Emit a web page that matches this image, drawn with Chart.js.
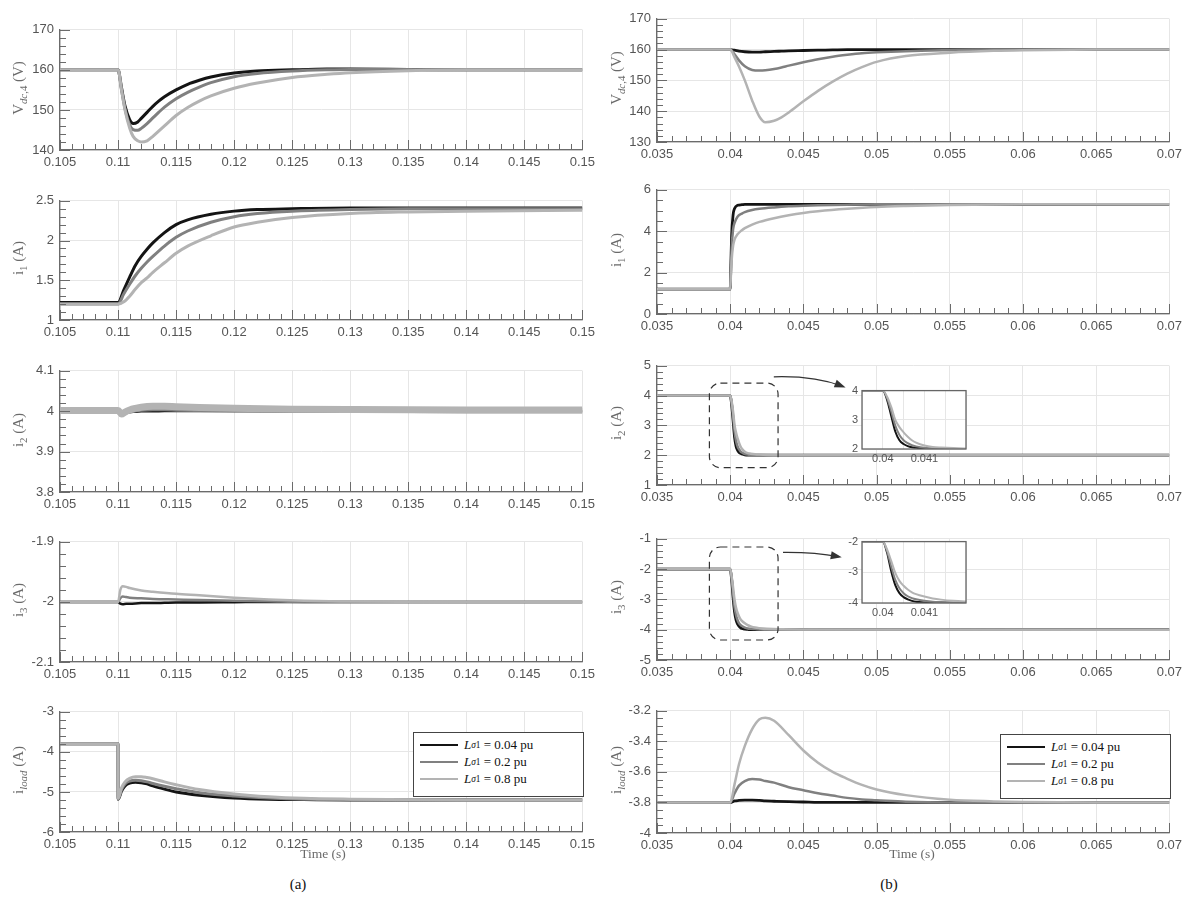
<!DOCTYPE html>
<html>
<head>
<meta charset="utf-8">
<script src="https://cdn.jsdelivr.net/npm/chart.js@4.4.1/dist/chart.umd.min.js"></script>
<style>
  body { margin: 0; background: #fff; }
  #fig { position: relative; width: 1187px; height: 914px; overflow: hidden; background: #fff; }
  canvas { position: absolute; }
  .ylab { position: absolute; font-family: 'Liberation Serif', serif; font-size: 15px; color: #6a6a6a; white-space: nowrap; transform: translate(-50%, -50%) rotate(-90deg); }
  .xlab { position: absolute; font-family: 'Liberation Serif', serif; font-size: 13.5px; color: #6a6a6a; white-space: nowrap; transform: translateX(-50%); }
  .cap { position: absolute; font-family: 'Liberation Serif', serif; font-size: 15px; color: #111; transform: translateX(-50%); }
  .legend { position: absolute; background: #fff; border: 1px solid #444; font-family: 'Liberation Serif', serif; font-size: 13px; color: #111; padding: 3px 6px; box-sizing: border-box; }
  .legend div { display: flex; align-items: center; height: 17px; white-space: nowrap; }
  .legend .sw { display: inline-block; width: 38px; height: 0; border-top: 2.5px solid; margin-right: 6px; }
  sub { font-size: 72%; }
</style>
</head>
<body>
<div id="fig"></div>
<script>
// ---- data: (a) column, step at t = 0.11 s
const xTicksA = [0.105, 0.11, 0.115, 0.12, 0.125, 0.13, 0.135, 0.14, 0.145, 0.15];

const tVdcA = [0.105, 0.11, 0.1103, 0.1106, 0.111, 0.1113, 0.1117, 0.112, 0.1125, 0.113, 0.1135, 0.114, 0.115, 0.116, 0.117, 0.118, 0.12, 0.122, 0.125, 0.128, 0.13, 0.135, 0.14, 0.145, 0.15];
const vdcA_004 = [160, 160, 155.5, 151, 147.6, 146.6, 147.0, 147.9, 149.4, 150.9, 152.2, 153.3, 155.0, 156.4, 157.4, 158.2, 159.2, 159.7, 160.0, 160.2, 160.2, 160.1, 160.0, 160.0, 160.0];
const vdcA_02 = [160, 160, 155, 150.3, 146.3, 145.1, 144.9, 145.4, 146.6, 148.0, 149.4, 150.7, 152.8, 154.4, 155.7, 156.8, 158.3, 159.1, 159.7, 160.0, 160.1, 160.1, 160.0, 160.0, 160.0];
const vdcA_08 = [160, 160, 155, 150, 145.5, 143.4, 142.3, 142.0, 142.3, 143.4, 144.7, 146.0, 148.6, 150.6, 152.2, 153.5, 155.4, 156.7, 158.1, 158.9, 159.3, 159.8, 160.0, 160.0, 160.0];
const yTicksVdcA = [140, 150, 160, 170];

const tI1A = [0.105, 0.11, 0.1105, 0.111, 0.1115, 0.112, 0.1125, 0.113, 0.114, 0.115, 0.116, 0.118, 0.12, 0.122, 0.125, 0.13, 0.135, 0.14, 0.15];
const i1A_004 = [1.22, 1.22, 1.38, 1.54, 1.69, 1.8, 1.89, 1.97, 2.1, 2.2, 2.26, 2.33, 2.37, 2.39, 2.4, 2.41, 2.41, 2.41, 2.41];
const i1A_02 = [1.2, 1.2, 1.33, 1.45, 1.56, 1.65, 1.73, 1.8, 1.93, 2.04, 2.12, 2.23, 2.3, 2.34, 2.37, 2.39, 2.4, 2.4, 2.4];
const i1A_08 = [1.2, 1.2, 1.23, 1.3, 1.39, 1.47, 1.53, 1.6, 1.72, 1.84, 1.93, 2.06, 2.17, 2.23, 2.29, 2.34, 2.36, 2.37, 2.38];
const yTicksI1A = [1, 1.5, 2, 2.5];

const tI2A = [0.105, 0.11, 0.1103, 0.1106, 0.111, 0.1115, 0.112, 0.113, 0.114, 0.115, 0.117, 0.12, 0.125, 0.13, 0.14, 0.15];
const i2A_004 = [4.0, 4.0, 3.993, 3.996, 3.998, 3.998, 3.999, 3.999, 4.0, 4.0, 4.0, 4.0, 4.0, 4.0, 4.0, 4.0];
const i2A_02 = [4.001, 4.001, 3.993, 3.997, 4.0, 4.003, 4.005, 4.006, 4.006, 4.005, 4.004, 4.003, 4.002, 4.002, 4.001, 4.001];
const i2A_08 = [4.002, 4.002, 3.993, 3.998, 4.003, 4.007, 4.01, 4.012, 4.012, 4.011, 4.009, 4.007, 4.005, 4.004, 4.003, 4.003];
const yTicksI2A = [3.8, 3.9, 4, 4.1];

const tI3A = [0.105, 0.11, 0.1102, 0.1104, 0.1107, 0.111, 0.112, 0.113, 0.115, 0.117, 0.12, 0.123, 0.126, 0.13, 0.14, 0.15];
const i3A_004 = [-2, -2, -2.003, -2.004, -2.003, -2.003, -2.002, -2.002, -2.001, -2.001, -2.0005, -2, -2, -2, -2, -2];
const i3A_02 = [-2, -2, -1.994, -1.991, -1.992, -1.993, -1.994, -1.995, -1.996, -1.997, -1.998, -1.999, -2, -2, -2, -2];
const i3A_08 = [-2, -2, -1.98, -1.974, -1.975, -1.977, -1.981, -1.983, -1.9865, -1.989, -1.993, -1.996, -1.998, -1.9995, -2, -2];
const yTicksI3A = [-2.1, -2, -1.9];

const tLoadA = [0.105, 0.11, 0.11001, 0.1103, 0.1106, 0.111, 0.1115, 0.112, 0.1125, 0.113, 0.114, 0.115, 0.117, 0.12, 0.123, 0.126, 0.13, 0.14, 0.15];
const loadA_004 = [-3.8, -3.8, -5.18, -4.98, -4.85, -4.78, -4.76, -4.77, -4.8, -4.85, -4.93, -5.0, -5.08, -5.15, -5.18, -5.19, -5.2, -5.2, -5.2];
const loadA_02 = [-3.8, -3.8, -5.18, -4.94, -4.8, -4.73, -4.71, -4.72, -4.75, -4.79, -4.86, -4.92, -5.02, -5.1, -5.15, -5.18, -5.19, -5.2, -5.2];
const loadA_08 = [-3.8, -3.8, -5.16, -4.9, -4.75, -4.66, -4.62, -4.62, -4.64, -4.67, -4.75, -4.82, -4.94, -5.05, -5.12, -5.16, -5.18, -5.2, -5.2];
const yTicksLoadA = [-6, -5, -4, -3];

// ---- data: (b) column, step at t = 0.04 s
const xTicksB = [0.035, 0.04, 0.045, 0.05, 0.055, 0.06, 0.065, 0.07];

const tVdcB = [0.035, 0.04, 0.0403, 0.0406, 0.041, 0.0415, 0.042, 0.0424, 0.043, 0.0435, 0.044, 0.045, 0.046, 0.047, 0.048, 0.049, 0.05, 0.052, 0.055, 0.058, 0.06, 0.065, 0.07];
const vdcB_004 = [160, 160, 159.8, 159.5, 159.3, 159.2, 159.2, 159.3, 159.4, 159.5, 159.6, 159.7, 159.8, 159.9, 160, 160, 160, 160, 160, 160, 160, 160, 160];
const vdcB_02 = [160, 160, 158.5, 156.5, 154.6, 153.4, 153.2, 153.3, 153.7, 154.2, 154.8, 155.9, 156.9, 157.7, 158.3, 158.8, 159.1, 159.5, 159.8, 160, 160, 160, 160];
const vdcB_08 = [160, 160, 157.5, 154.5, 150, 143.5, 138.2, 136.4, 136.9, 138.0, 139.6, 143.2, 146.6, 149.6, 152.2, 154.3, 156.0, 157.9, 159.0, 159.6, 159.8, 160, 160];
const yTicksVdcB = [130, 140, 150, 160, 170];

const tI1B = [0.035, 0.04, 0.04005, 0.0401, 0.0402, 0.0403, 0.0405, 0.0408, 0.041, 0.0415, 0.042, 0.043, 0.044, 0.045, 0.046, 0.048, 0.05, 0.052, 0.055, 0.06, 0.065, 0.07];
const i1B_004 = [1.2, 1.2, 2.5, 3.8, 4.8, 5.1, 5.25, 5.28, 5.3, 5.3, 5.3, 5.3, 5.3, 5.3, 5.3, 5.3, 5.3, 5.3, 5.3, 5.3, 5.3, 5.3];
const i1B_02 = [1.2, 1.2, 2.2, 3.2, 4.1, 4.4, 4.7, 4.85, 4.92, 5.02, 5.08, 5.15, 5.2, 5.23, 5.25, 5.28, 5.3, 5.3, 5.3, 5.3, 5.3, 5.3];
const i1B_08 = [1.2, 1.2, 1.9, 2.6, 3.3, 3.6, 3.85, 4.05, 4.15, 4.32, 4.45, 4.63, 4.77, 4.88, 4.96, 5.08, 5.17, 5.22, 5.27, 5.3, 5.3, 5.3];
const yTicksI1B = [0, 2, 4, 6];

const tI2B = [0.035, 0.04, 0.0401, 0.0402, 0.0403, 0.0404, 0.0405, 0.0406, 0.0407, 0.0408, 0.041, 0.0412, 0.0414, 0.0417, 0.042, 0.0425, 0.045, 0.07];
const i2B_004 = [4, 4, 3.7, 3.15, 2.6, 2.3, 2.17, 2.1, 2.06, 2.04, 2.01, 2.0, 2.0, 2.0, 2.0, 2.0, 2.0, 2.0];
const i2B_02 = [4, 4, 3.75, 3.3, 2.8, 2.48, 2.3, 2.2, 2.13, 2.09, 2.04, 2.02, 2.01, 2.0, 2.0, 2.0, 2.0, 2.0];
const i2B_08 = [4, 4, 3.8, 3.45, 3.0, 2.75, 2.57, 2.42, 2.3, 2.22, 2.12, 2.07, 2.05, 2.03, 2.02, 2.01, 2.0, 2.0];
const yTicksI2B = [1, 2, 3, 4, 5];

const tI3B = [0.035, 0.04, 0.0401, 0.0402, 0.0403, 0.0404, 0.0405, 0.0406, 0.0407, 0.0408, 0.041, 0.0412, 0.0414, 0.0417, 0.042, 0.0425, 0.045, 0.07];
const i3B_004 = [-2, -2, -2.35, -2.95, -3.42, -3.68, -3.81, -3.88, -3.93, -3.96, -3.98, -3.99, -4, -4, -4, -4, -4, -4];
const i3B_02 = [-2, -2, -2.3, -2.8, -3.25, -3.52, -3.68, -3.78, -3.84, -3.88, -3.93, -3.96, -3.97, -3.98, -3.99, -4, -4, -4];
const i3B_08 = [-2, -2, -2.25, -2.62, -3.02, -3.28, -3.44, -3.56, -3.65, -3.71, -3.79, -3.85, -3.89, -3.93, -3.95, -3.97, -3.99, -4];
const yTicksI3B = [-5, -4, -3, -2, -1];

const tLoadB = [0.035, 0.04, 0.0403, 0.0406, 0.041, 0.0415, 0.042, 0.0424, 0.043, 0.044, 0.045, 0.046, 0.047, 0.048, 0.049, 0.05, 0.052, 0.055, 0.058, 0.06, 0.065, 0.07];
const loadB_004 = [-3.8, -3.8, -3.79, -3.787, -3.785, -3.785, -3.787, -3.79, -3.792, -3.795, -3.797, -3.8, -3.8, -3.8, -3.8, -3.8, -3.8, -3.8, -3.8, -3.8, -3.8, -3.8];
const loadB_02 = [-3.8, -3.8, -3.74, -3.69, -3.66, -3.647, -3.65, -3.66, -3.67, -3.7, -3.72, -3.74, -3.755, -3.77, -3.78, -3.785, -3.795, -3.8, -3.8, -3.8, -3.8, -3.8];
const loadB_08 = [-3.8, -3.8, -3.68, -3.55, -3.43, -3.32, -3.255, -3.245, -3.265, -3.36, -3.46, -3.54, -3.6, -3.645, -3.685, -3.715, -3.752, -3.782, -3.793, -3.797, -3.8, -3.8];
const yTicksLoadB = [-4, -3.8, -3.6, -3.4, -3.2];

const insetXLabels = [0.04, 0.041];
const insetYI2 = [2, 3, 4];
const insetYI3 = [-4, -3, -2];
const legendValues = ['0.04', '0.2', '0.8'];

// drawn light first so that dataset 0 (0.8 pu) ends up on top
const colors = ['#b3b3b3', '#808080', '#141414'];

const fig = document.getElementById('fig');

function steps(min, max, step) {
  const n = Math.round((max - min) / step);
  const out = [];
  for (let i = 0; i <= n; i++) out.push(+(min + i * step).toFixed(8));
  return out;
}
const near = (list, v) => list.some(t => Math.abs(t - v) < 1e-9);

// inward major / minor tick marks (MATLAB style)
const inTicks = {
  id: 'inTicks',
  afterDatasetsDraw(chart, args, o) {
    if (!o.xMinor) return;
    const {ctx, chartArea: a, scales: {x, y}} = chart;
    ctx.save();
    ctx.strokeStyle = '#6b6b6b';
    ctx.lineWidth = 1;
    ctx.beginPath();
    for (const v of steps(x.min, x.max, o.xMinor)) {
      const px = Math.round(x.getPixelForValue(v)) + 0.5;
      ctx.moveTo(px, a.bottom);
      ctx.lineTo(px, a.bottom - (near(o.xMajor, v) ? 10 : 6));
    }
    for (const v of steps(y.min, y.max, o.yMinor)) {
      const py = Math.round(y.getPixelForValue(v)) + 0.5;
      ctx.moveTo(a.left, py);
      ctx.lineTo(a.left + (near(o.yMajor, v) ? 10 : 6), py);
    }
    ctx.stroke();
    ctx.restore();
  }
};

// dashed zoom box + curved arrow, given in data units
const notes = {
  id: 'notes',
  afterDatasetsDraw(chart, args, o) {
    if (!o.box) return;
    const {ctx, scales: {x, y}} = chart;
    const X = v => x.getPixelForValue(v), Y = v => y.getPixelForValue(v);
    const x0 = X(o.box[0]), x1 = X(o.box[1]), y0 = Y(o.box[2]), y1 = Y(o.box[3]);
    const r = 11;
    ctx.save();
    ctx.strokeStyle = '#333';
    ctx.lineWidth = 1.2;
    ctx.setLineDash([7, 5]);
    ctx.beginPath();
    ctx.moveTo(x0 + r, y0);
    ctx.arcTo(x1, y0, x1, y1, r);
    ctx.arcTo(x1, y1, x0, y1, r);
    ctx.arcTo(x0, y1, x0, y0, r);
    ctx.arcTo(x0, y0, x1, y0, r);
    ctx.closePath();
    ctx.stroke();
    ctx.setLineDash([]);
    const [p0, pc, p1] = o.arrow.map(p => [X(p[0]), Y(p[1])]);
    ctx.lineWidth = 1.3;
    ctx.beginPath();
    ctx.moveTo(p0[0], p0[1]);
    ctx.quadraticCurveTo(pc[0], pc[1], p1[0], p1[1]);
    ctx.stroke();
    const ang = Math.atan2(p1[1] - pc[1], p1[0] - pc[0]);
    ctx.fillStyle = '#333';
    ctx.beginPath();
    ctx.moveTo(p1[0] + 3 * Math.cos(ang), p1[1] + 3 * Math.sin(ang));
    ctx.lineTo(p1[0] - 8 * Math.cos(ang) + 4 * Math.sin(ang), p1[1] - 8 * Math.sin(ang) - 4 * Math.cos(ang));
    ctx.lineTo(p1[0] - 8 * Math.cos(ang) - 4 * Math.sin(ang), p1[1] - 8 * Math.sin(ang) + 4 * Math.cos(ang));
    ctx.closePath();
    ctx.fill();
    ctx.restore();
  }
};

// white face + full box for the insets
const insetFrame = {
  id: 'insetFrame',
  beforeDraw(chart, args, o) {
    if (!o.on) return;
    const {ctx, chartArea: a} = chart;
    ctx.save();
    ctx.fillStyle = '#fff';
    ctx.fillRect(a.left, a.top, a.right - a.left, a.bottom - a.top);
    ctx.restore();
  },
  afterDraw(chart, args, o) {
    if (!o.on) return;
    const {ctx, chartArea: a} = chart;
    ctx.save();
    ctx.strokeStyle = '#666';
    ctx.lineWidth = 1.3;
    ctx.strokeRect(a.left, a.top, a.right - a.left, a.bottom - a.top);
    ctx.restore();
  }
};

function plot(o) {
  const padTop = o.padTop || 10, axH = o.axH || 26, axW = o.axW || 60;
  const W = o.width, H = padTop + (o.bottom - o.top) + axH;
  const c = document.createElement('canvas');
  c.width = W; c.height = H;
  c.style.left = o.left + 'px';
  c.style.top = (o.top - padTop) + 'px';
  c.style.width = W + 'px';
  c.style.height = H + 'px';
  fig.appendChild(c);
  const fs = o.fontSize || 13;
  const tickFont = {family: "'Liberation Sans', Arial, sans-serif", size: fs};
  const xLab = o.xLabels || o.xMajor, yLab = o.yLabels || o.yMajor;
  return new Chart(c, {
    type: 'line',
    data: {
      datasets: o.series.map((s, k) => ({
        data: o.t.map((tv, i) => ({x: tv, y: s[i]})),
        borderColor: colors[k],
        borderWidth: o.widths[k],
        pointRadius: 0,
        cubicInterpolationMode: 'monotone',
        fill: false
      }))
    },
    options: {
      responsive: false,
      animation: false,
      devicePixelRatio: 1,
      layout: {padding: {top: padTop, right: o.padRight, left: 0, bottom: 0}},
      plugins: {
        legend: {display: false},
        tooltip: {enabled: false},
        inTicks: o.inset ? {} : {xMajor: o.xMajor, xMinor: o.xMinor, yMajor: o.yMajor, yMinor: o.yMinor},
        notes: o.notes || {},
        insetFrame: {on: !!o.inset}
      },
      scales: {
        x: {
          type: 'linear', min: o.xMin, max: o.xMax,
          afterBuildTicks: s => { s.ticks = (o.xGrid || o.xMajor).map(v => ({value: v})); },
          afterFit: s => { s.height = axH; },
          ticks: {color: '#555', font: tickFont, padding: o.inset ? 3 : 5, maxRotation: 0, autoSkip: false,
                  callback: v => near(xLab, v) ? String(xLab.find(t => Math.abs(t - v) < 1e-9)) : ''},
          grid: {color: '#e6e6e6', lineWidth: 1, drawTicks: false},
          border: {display: !o.inset, color: '#6b6b6b', width: 1.3}
        },
        y: {
          type: 'linear', min: o.yMin, max: o.yMax,
          afterBuildTicks: s => { s.ticks = (o.yGrid || o.yMajor).map(v => ({value: v})); },
          afterFit: s => { s.width = axW; },
          ticks: {color: '#555', font: tickFont, padding: o.inset ? 4 : 6, autoSkip: false,
                  callback: v => near(yLab, v) ? String(yLab.find(t => Math.abs(t - v) < 1e-9)) : ''},
          grid: {color: '#e6e6e6', lineWidth: 1, drawTicks: false},
          border: {display: !o.inset, color: '#6b6b6b', width: 1.3}
        }
      }
    },
    plugins: [inTicks, notes, insetFrame]
  });
}

const colA = {left: 0, width: 600, padRight: 13, xMin: 0.105, xMax: 0.15, xMajor: xTicksA, xMinor: 0.001};
const colB = {left: 597, width: 590, padRight: 15, xMin: 0.035, xMax: 0.07, xMajor: xTicksB, xMinor: 0.001};
const wA = [3, 3, 3], wB = [2.5, 2.5, 2.8];

plot({...colA, top: 26, bottom: 150, t: tVdcA, series: [vdcA_08, vdcA_02, vdcA_004], widths: wA,
      yMin: 140, yMax: 170, yMajor: yTicksVdcA, yMinor: 2});
plot({...colA, top: 197, bottom: 320, t: tI1A, series: [i1A_08, i1A_02, i1A_004], widths: wA,
      yMin: 1, yMax: 2.5, yMajor: yTicksI1A, yMinor: 0.1});
plot({...colA, top: 367, bottom: 492, t: tI2A, series: [i2A_08, i2A_02, i2A_004], widths: [7, 5, 2],
      yMin: 3.8, yMax: 4.1, yMajor: yTicksI2A, yMinor: 0.02});
plot({...colA, top: 538, bottom: 662, t: tI3A, series: [i3A_08, i3A_02, i3A_004], widths: [2.5, 2.5, 2.5],
      yMin: -2.1, yMax: -1.9, yMajor: yTicksI3A, yMinor: 0.02});
plot({...colA, top: 708, bottom: 832, t: tLoadA, series: [loadA_08, loadA_02, loadA_004], widths: wA,
      yMin: -6, yMax: -3, yMajor: yTicksLoadA, yMinor: 0.2});

plot({...colB, top: 15, bottom: 142, t: tVdcB, series: [vdcB_08, vdcB_02, vdcB_004], widths: wB,
      yMin: 130, yMax: 170, yMajor: yTicksVdcB, yMinor: 2});
plot({...colB, top: 186, bottom: 314, t: tI1B, series: [i1B_08, i1B_02, i1B_004], widths: wB,
      yMin: 0, yMax: 6, yMajor: yTicksI1B, yMinor: 0.5});
plot({...colB, top: 362, bottom: 485, t: tI2B, series: [i2B_08, i2B_02, i2B_004], widths: wB,
      yMin: 1, yMax: 5, yMajor: yTicksI2B, yMinor: 0.2,
      notes: {box: [0.03858, 0.04327, 4.42, 1.58], arrow: [[0.04298, 4.63], [0.04577, 4.67], [0.04769, 4.31]]}});
plot({...colB, top: 535, bottom: 660, t: tI3B, series: [i3B_08, i3B_02, i3B_004], widths: wB,
      yMin: -5, yMax: -1, yMajor: yTicksI3B, yMinor: 0.2,
      notes: {box: [0.03858, 0.04327, -1.27, -4.34], arrow: [[0.04361, -1.45], [0.04577, -1.44], [0.04742, -1.59]]}});
plot({...colB, top: 707, bottom: 833, t: tLoadB, series: [loadB_08, loadB_02, loadB_004], widths: wB,
      yMin: -4, yMax: -3.2, yMajor: yTicksLoadB, yMinor: 0.05});

// zoomed insets on the i2 / i3 panels of (b)
const insetBase = {inset: true, left: 822, width: 154, padRight: 10, padTop: 8, axH: 20, axW: 40, fontSize: 11,
                   xMin: 0.0395, xMax: 0.042, xGrid: steps(0.0395, 0.042, 0.0005), xMajor: insetXLabels,
                   widths: [2, 2, 2]};
plot({...insetBase, top: 388, bottom: 449, t: tI2B, series: [i2B_08, i2B_02, i2B_004],
      yMin: 2, yMax: 4, yMajor: insetYI2});
plot({...insetBase, top: 539, bottom: 603, t: tI3B, series: [i3B_08, i3B_02, i3B_004],
      yMin: -4, yMax: -2, yMajor: insetYI3});

// text: axis labels, legends, captions
function html(cls, x, y, inner, extra) {
  const d = document.createElement('div');
  d.className = cls;
  d.style.left = x + 'px';
  d.style.top = y + 'px';
  if (extra) Object.assign(d.style, extra);
  d.innerHTML = inner;
  fig.appendChild(d);
  return d;
}
const yLabels = [
  'V<sub><i>dc</i>,4</sub> (V)', 'i<sub>1</sub> (A)', 'i<sub>2</sub> (A)', 'i<sub>3</sub> (A)', 'i<sub><i>load</i></sub> (A)'
];
const midA = [88, 258, 430, 600, 770], midB = [78, 250, 423, 597, 770];
yLabels.forEach((s, k) => {
  html('ylab', 19, midA[k], s);
  html('ylab', 617, midB[k], s);
});
html('xlab', 323, 846, 'Time (s)');
html('xlab', 912, 846, 'Time (s)');
html('cap', 298, 876, '(a)');
html('cap', 889, 876, '(b)');

function legend(x, y) {
  const rows = legendValues.map((v, k) =>
    `<div><span class="sw" style="border-color:${colors[2 - k]}"></span><i>L</i><sub><i>σ</i>1</sub>&nbsp;= ${v} pu</div>`
  ).join('');
  html('legend', x, y, rows, {width: '171px', height: '65px'});
}
legend(413, 732);
legend(1000, 734);
</script>
</body>
</html>
